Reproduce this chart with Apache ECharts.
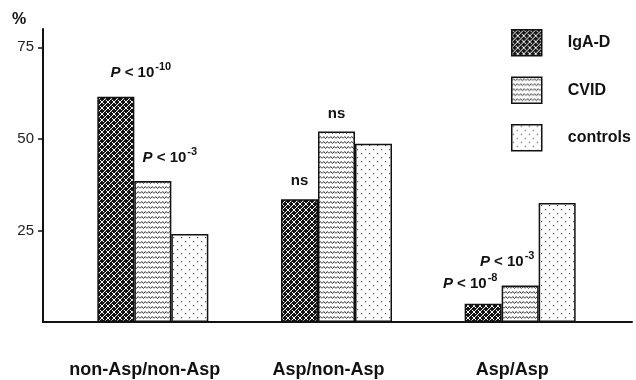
<!DOCTYPE html>
<html>
<head>
<meta charset="utf-8">
<script src="https://cdn.jsdelivr.net/npm/echarts@6/dist/echarts.min.js"></script>
<style>
html,body{margin:0;padding:0;background:#fff;}
#chart{width:636px;height:380px;}
</style>
</head>
<body>
<div id="chart"></div>
<script>
// ---- data ----
const categories = ['non-Asp/non-Asp', 'Asp/non-Asp', 'Asp/Asp'];
const seriesNames = ['IgA-D', 'CVID', 'controls'];
const igaValues = [61.5, 33.5, 5];
const cvidValues = [38.5, 52, 10];
const controlValues = [24, 48.7, 32.5];
const igaNotes = ['P < 10^-10', 'ns', 'P < 10^-8'];
const cvidNotes = ['P < 10^-3', 'ns', 'P < 10^-3'];
const controlNotes = ['', '', ''];
const yTicks = [25, 50, 75];
const yMax = 80;

// ---- patterns ----
function tile(w, h, draw) {
  const c = document.createElement('canvas');
  c.width = w; c.height = h;
  const g = c.getContext('2d');
  draw(g, w, h);
  return c;
}
const weave = tile(6, 6, (g, w, h) => {
  g.fillStyle = '#141414'; g.fillRect(0, 0, w, h);
  g.strokeStyle = '#ffffff'; g.lineWidth = 1;
  g.beginPath();
  // "\" strands broken by "/" strands, basket-weave look
  g.moveTo(-1, -1); g.lineTo(2.2, 2.2);
  g.moveTo(3.8, 3.8); g.lineTo(7, 7);
  g.moveTo(7, -1); g.lineTo(-1, 7);
  g.moveTo(2, -1); g.lineTo(-1, 2);
  g.moveTo(7, 4); g.lineTo(4, 7);
  g.stroke();
});
const waves = tile(7, 5, (g, w, h) => {
  g.fillStyle = '#ffffff'; g.fillRect(0, 0, w, h);
  g.strokeStyle = '#333'; g.lineWidth = 1;
  g.beginPath();
  g.moveTo(0, 3.5); g.lineTo(1.75, 1.5); g.lineTo(3.5, 3.5); g.lineTo(5.25, 1.5); g.lineTo(7, 3.5);
  g.stroke();
});
const dots = tile(8, 8, (g, w, h) => {
  g.fillStyle = '#ffffff'; g.fillRect(0, 0, w, h);
  g.fillStyle = '#555';
  g.fillRect(1, 1, 1.2, 1.2);
  g.fillRect(5, 5, 1.2, 1.2);
});
const patterns = [weave, waves, dots];

// ---- labels ----
function richNote(t) {
  if (!t) return '';
  const m = t.match(/^P < 10\^(-?\d+)$/);
  if (m) return '{p|P}{t| < 10}{s|' + m[1] + '}';
  return '{t|' + t + '}';
}
const labelOffsets = [
  [[25, -10], [0, -5], [-13, -6]],
  [[17, -10], [0, -4], [-13, -10]],
  [[0, 0], [0, 0], [0, 0]]
];
const richStyles = {
  p: {fontFamily: 'Liberation Sans', fontSize: 15, fontWeight: 'bold', fontStyle: 'italic', color: '#111', verticalAlign: 'bottom'},
  t: {fontFamily: 'Liberation Sans', fontSize: 15, fontWeight: 'bold', color: '#111', verticalAlign: 'bottom'},
  s: {fontFamily: 'Liberation Sans', fontSize: 11, fontWeight: 'bold', color: '#111', verticalAlign: 'top', padding: [0, 0, 8, 1]}
};

const valuesList = [igaValues, cvidValues, controlValues];
const notesList = [igaNotes, cvidNotes, controlNotes];

const series = seriesNames.map((name, si) => ({
  name: name,
  type: 'bar',
  xAxisIndex: 0,
  yAxisIndex: 0,
  barWidth: 37,
  barGap: '0%',
  itemStyle: {color: {image: patterns[si], repeat: 'repeat'}, borderColor: '#111', borderWidth: 1.5},
  data: valuesList[si].map((v, i) => ({
    value: v,
    label: {
      show: !!notesList[si][i],
      position: 'top',
      distance: 6,
      offset: labelOffsets[si][i],
      formatter: richNote(notesList[si][i]),
      rich: richStyles
    }
  }))
}));
// empty series in second grid to keep axes alive
series.push({type: 'line', xAxisIndex: 1, yAxisIndex: 1, data: [], silent: true});

const chart = echarts.init(document.getElementById('chart'), null, {renderer: 'canvas'});
chart.setOption({
  animation: false,
  backgroundColor: '#ffffff',
  textStyle: {fontFamily: 'Liberation Sans'},
  grid: [
    {left: 61, right: 24, top: 29, bottom: 58},
    {left: 43, right: 4, top: 29, bottom: 58}
  ],
  graphic: [{
    type: 'text', left: 12, top: 12,
    style: {text: '%', font: 'bold 16px "Liberation Sans"', fill: '#111'}
  }],
  legend: {
    orient: 'vertical',
    left: 511, top: 29,
    padding: 0,
    itemWidth: 30, itemHeight: 26, itemGap: 20,
    icon: 'rect',
    data: seriesNames,
    itemStyle: {borderColor: '#111', borderWidth: 1.5},
    textStyle: {fontFamily: 'Liberation Sans', fontSize: 16, fontWeight: 'bold', color: '#111', padding: [0, 0, 0, 21]}
  },
  xAxis: [
    {
      type: 'category', gridIndex: 0, data: categories,
      axisLine: {show: false}, axisTick: {show: false},
      axisLabel: {interval: 0, fontFamily: 'Liberation Sans', fontSize: 18, fontWeight: 'bold', color: '#111', margin: 39, padding: [0, 16, 0, 0]}
    },
    {
      type: 'value', gridIndex: 1, min: 0, max: 1,
      axisLine: {show: true, lineStyle: {color: '#111', width: 2}},
      axisTick: {show: false}, axisLabel: {show: false}, splitLine: {show: false}
    }
  ],
  yAxis: [
    {
      type: 'value', gridIndex: 0, min: 0, max: yMax, offset: 18,
      axisLine: {show: false},
      splitLine: {show: false},
      axisTick: {show: true, length: 5, customValues: yTicks, lineStyle: {color: '#111', width: 1.5}},
      axisLabel: {customValues: yTicks, fontFamily: 'Liberation Sans', fontSize: 15, color: '#222', margin: 9}
    },
    {
      type: 'value', gridIndex: 1, min: 0, max: 1,
      axisLine: {show: true, lineStyle: {color: '#111', width: 2}},
      axisTick: {show: false}, axisLabel: {show: false}, splitLine: {show: false}
    }
  ],
  series: series
});
</script>
</body>
</html>
